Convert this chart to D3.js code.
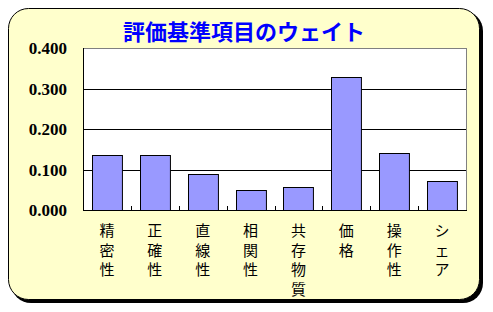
<!DOCTYPE html>
<html>
<head>
<meta charset="UTF-8">
<title>評価基準項目のウェイト</title>
<script src="https://d3js.org/d3.v7.min.js"></script>
<style>
  body { margin: 0; background: #fff; }
</style>
</head>
<body>
<div id="chart"></div>
<script>
// data
var categories = ["精密性", "正確性", "直線性", "相関性", "共存物質", "価格", "操作性", "シェア"];
var weights = [0.136, 0.136, 0.089, 0.049, 0.056, 0.328, 0.140, 0.071];
var yTicks = [0, 0.1, 0.2, 0.3, 0.4];

var W = 493, H = 312;
var plot = {left: 83, right: 466, top: 48, bottom: 210};

var svg = d3.select("#chart").append("svg")
    .attr("width", W).attr("height", H);

// frame with shadow
svg.append("rect")
    .attr("x", 11).attr("y", 11).attr("width", 472).attr("height", 292)
    .attr("rx", 20).attr("fill", "#000");
svg.append("rect")
    .attr("x", 8.5).attr("y", 8.5).attr("width", 471).attr("height", 291)
    .attr("rx", 20).attr("fill", "#FFFFCC").attr("stroke", "#000");

// title
svg.append("text")
    .attr("x", 244).attr("y", 40)
    .attr("text-anchor", "middle")
    .attr("font-family", "'Noto Sans CJK JP', sans-serif")
    .attr("font-weight", "bold")
    .attr("font-size", 22)
    .attr("fill", "#0000FF")
    .text("評価基準項目のウェイト");

var x = d3.scaleBand()
    .domain(categories)
    .range([plot.left, plot.right])
    .paddingInner(0.375)
    .paddingOuter(0.1875);

var y = d3.scaleLinear()
    .domain([0, 0.4])
    .range([plot.bottom, plot.top]);

// plot area
svg.append("rect")
    .attr("x", plot.left + 0.5).attr("y", plot.top + 0.5)
    .attr("width", plot.right - plot.left).attr("height", plot.bottom - plot.top)
    .attr("fill", "#fff").attr("stroke", "#808080");

// gridlines
svg.append("g").selectAll("line")
    .data(yTicks.filter(function(d) { return d > 0 && d < 0.4; }))
    .join("line")
    .attr("x1", plot.left).attr("x2", plot.right)
    .attr("y1", function(d) { return Math.round(y(d)) + 0.5; })
    .attr("y2", function(d) { return Math.round(y(d)) + 0.5; })
    .attr("stroke", "#000");

// bars
svg.append("g").selectAll("rect")
    .data(weights)
    .join("rect")
    .attr("x", function(d, i) { return Math.round(x(categories[i])) + 0.5; })
    .attr("y", function(d) { return Math.round(y(d)) + 0.5; })
    .attr("width", x.bandwidth())
    .attr("height", function(d) { return Math.round(plot.bottom - y(d)); })
    .attr("fill", "#9999FF")
    .attr("stroke", "#000");

// axes lines
svg.append("line")
    .attr("x1", plot.left + 0.5).attr("x2", plot.left + 0.5)
    .attr("y1", plot.top).attr("y2", plot.bottom + 1)
    .attr("stroke", "#000");
svg.append("line")
    .attr("x1", plot.left).attr("x2", plot.right + 1)
    .attr("y1", plot.bottom + 0.5).attr("y2", plot.bottom + 0.5)
    .attr("stroke", "#000");

// category separators ticks
var step = x.step();
svg.append("g").selectAll("line")
    .data(d3.range(1, categories.length))
    .join("line")
    .attr("x1", function(i) { return Math.round(plot.left + i * step) + 0.5; })
    .attr("x2", function(i) { return Math.round(plot.left + i * step) + 0.5; })
    .attr("y1", plot.bottom - 4).attr("y2", plot.bottom)
    .attr("stroke", "#000");

// y labels
svg.append("g").selectAll("text")
    .data(yTicks)
    .join("text")
    .attr("x", 67)
    .attr("y", function(d) { return y(d) + 6; })
    .attr("text-anchor", "end")
    .attr("font-family", "'Liberation Serif', 'Times New Roman', serif")
    .attr("font-weight", "bold")
    .attr("font-size", 17)
    .text(function(d) { return d3.format(".3f")(d); });

// x labels, stacked vertically
var xl = svg.append("g").selectAll("text")
    .data(categories)
    .join("text")
    .attr("text-anchor", "middle")
    .attr("font-family", "'Noto Sans CJK JP', sans-serif")
    .attr("font-size", 15)
    .attr("fill", "#000");
xl.each(function(c) {
  var t = d3.select(this);
  var cx = x(c) + x.bandwidth() / 2;
  c.split("").forEach(function(ch, k) {
    t.append("tspan")
      .attr("x", cx)
      .attr("y", 236 + k * 19.5)
      .text(ch);
  });
});
</script>
</body>
</html>
